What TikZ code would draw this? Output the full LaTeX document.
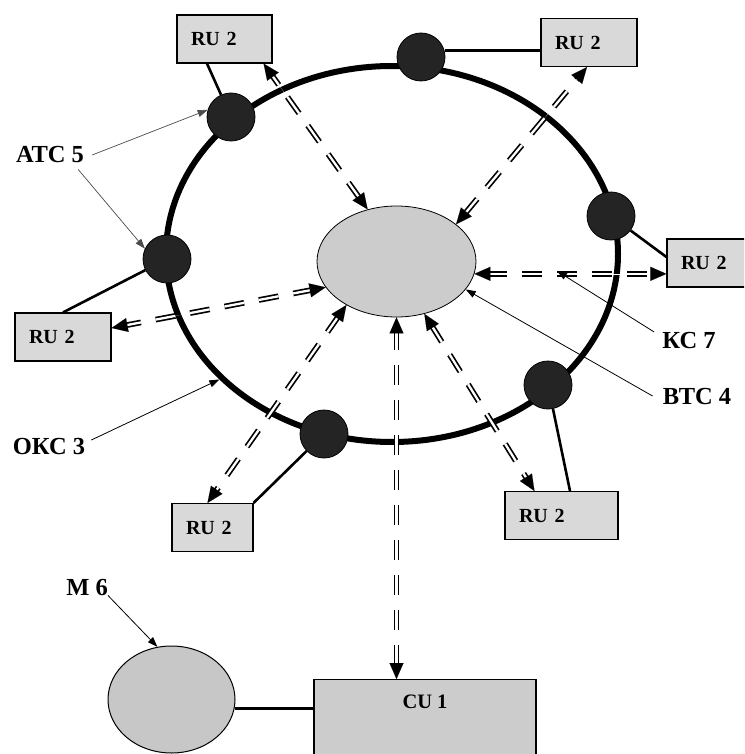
\documentclass[tikz,border=0pt]{standalone}
\usepackage{fontspec}
\setmainfont{Liberation Serif}
\usetikzlibrary{shapes.geometric,arrows.meta}
\definecolor{rufill}{gray}{0.85}
\definecolor{cfill}{gray}{0.80}
\definecolor{mfill}{gray}{0.78}
\definecolor{cufill}{gray}{0.80}
\definecolor{nodefill}{gray}{0.14}
\newcommand\dblink[2]{%
  \draw[dblline] (#1) -- (#2);
  \draw[dbltips] (#1) -- (#2);}
\begin{document}
\begin{tikzpicture}[x=1pt,y=-1pt,
  rubox/.style={draw=black, line width=1.2pt, fill=rufill, rectangle, inner xsep=14pt, inner ysep=0pt, minimum height=48pt, align=left, font=\bfseries\fontsize{20}{22}\selectfont},
  atcnode/.style={circle, draw=black, fill=nodefill, minimum size=48pt, inner sep=0pt, line width=0.8pt},
  dbltips/.style={draw=white, line width=0.05pt, {Triangle[length=16pt,width=14pt,color=black,fill=black]}-{Triangle[length=16pt,width=14pt,color=black,fill=black]}},
  dblline/.style={draw=black, line width=1.7pt, double=white, double distance=2.3pt, dash pattern=on 20pt off 15pt, shorten <=13pt, shorten >=13pt},
  lead/.style={draw=black, line width=0.8pt, -{Triangle[length=10pt,width=7pt]}},
  leadg/.style={draw=black!70, line width=0.7pt, -{Triangle[length=10pt,width=7pt]}},
  lbl/.style={font=\bfseries\fontsize{24.5}{27}\selectfont, anchor=base, inner sep=2pt},
  solidc/.style={draw=black, line width=2.6pt}
]
\clip (0,0) rectangle (744,754);
\fill[white] (0,0) rectangle (744,754);
% ring
\node[draw=black, ellipse, line width=6pt, minimum width=452pt, minimum height=376pt, inner sep=0pt] (ring) at (392,254) {};
% central ellipse
\node[ellipse, draw=black, line width=0.8pt, fill=cfill, minimum width=159pt, minimum height=111pt, inner sep=0pt] (C) at (396.5,261.5) {};
% RU boxes
\node[rubox, text width=67pt] (ruTL) at (224.5,39) {RU 2};
\node[rubox, text width=68pt] (ruTR) at (589,42.5) {RU 2};
\node[rubox, text width=51pt] (ruR) at (706.5,263) {RU 2};
\node[rubox, text width=68pt] (ruL) at (63,337) {RU 2};
\node[rubox, text width=53pt] (ruBL) at (212.5,527.5) {RU 2};
\node[rubox, text width=85pt] (ruBR) at (561.5,515.5) {RU 2};
% M 6 and CU 1
\node[ellipse, draw=black, line width=1pt, fill=mfill, minimum width=127pt, minimum height=107pt, inner sep=0pt] (m6) at (171.5,699.5) {};
\node[draw=black, line width=1.2pt, fill=cufill, anchor=north, minimum width=222pt, inner ysep=0pt, text height=29pt, text depth=50pt, font=\bfseries\fontsize{20.5}{22}\selectfont] (cu) at (425,679) {CU 1};
% solid connectors
\draw[solidc] (m6.-8.6) -- (m6.-8.6 -| cu.west);
% ring stations
\node[atcnode] (n1) at (231,117) {};
\node[atcnode] (n2) at (421,57) {};
\node[atcnode] (n3) at (611,216) {};
\node[atcnode] (n4) at (167,259) {};
\node[atcnode] (n5) at (324,434) {};
\node[atcnode] (n6) at (548,385) {};
\draw[solidc] (n1) -- ([xshift=-17.5pt]ruTL.south);
\draw[solidc] (n2.15) -- (n2.15 -| ruTR.west);
\draw[solidc] (n3) -- ([yshift=6pt]ruR.west);
\draw[solidc] (n4) -- (ruL.north);
\draw[solidc] (n5) -- (ruBL.north east);
\draw[solidc] (n6) -- ([xshift=8.5pt]ruBR.north);
% double dashed links
\dblink{C.119}{[xshift=-9pt]ruTL.south east}
\dblink{C.32}{[xshift=-2pt]ruTR.south}
\dblink{C.-9}{C.-9 -| ruR.west}
\dblink{C.200}{[yshift=9pt]ruL.east}
\dblink{C.221}{[xshift=-5pt]ruBL.north}
\dblink{C.-62}{[xshift=30pt]ruBR.north west}
\dblink{C.south}{C.south |- cu.north}
% labels
\node[lbl] (atc) at (50,163) {АТС 5};
\node[lbl] (kc) at (689,348) {КС 7};
\node[lbl] (btc) at (697,404) {ВТС 4};
\node[lbl] (okc) at (49,454) {ОКС 3};
\node[lbl] (m6l) at (87,595) {М 6};
\coordinate (kctip) at (557,271);
\draw[leadg] ([xshift=6pt]atc.east) -- (n1.163);
\draw[leadg] ([shift={(-8pt,-4pt)}]atc.south east) -- (n4.155);
\draw[lead] ([shift={(-6pt,8pt)}]kc.west) -- (kctip);
\draw[lead] ([xshift=-8pt]btc.west) -- (C.-22);
\draw[lead] ([shift={(4pt,6pt)}]okc.east) -- (ring.216);
\draw[lead] ([shift={(-2pt,2pt)}]m6l.south east) -- (m6.105);
\end{tikzpicture}
\end{document}
